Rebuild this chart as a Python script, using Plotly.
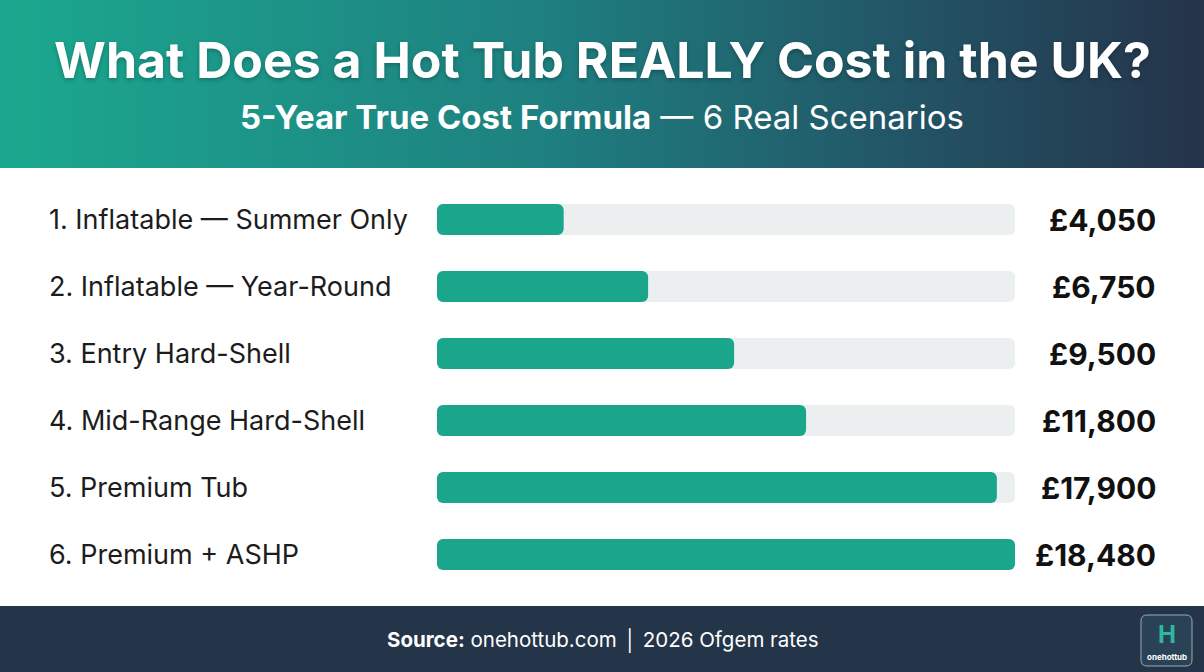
import plotly.graph_objects as go

# ---------------- data ----------------
categories = [
    "1. Inflatable — Summer Only",
    "2. Inflatable — Year-Round",
    "3. Entry Hard-Shell",
    "4. Mid-Range Hard-Shell",
    "5. Premium Tub",
    "6. Premium + ASHP",
]
costs = [4050, 6750, 9500, 11800, 17900, 18480]
value_labels = ["£4,050", "£6,750", "£9,500", "£11,800", "£17,900", "£18,480"]

title_text = "What Does a Hot Tub REALLY Cost in the UK?"
subtitle_bold = "5-Year True Cost Formula"
subtitle_rest = " — 6 Real Scenarios"
source_bold = "Source:"
source_rest = " onehottub.com │ 2026 Ofgem rates"

# ---------------- layout constants ----------------
W, H = 1204, 672
TEAL = "#1AA68B"
TRACK = "#ECEFF0"
NAVY = "#243449"
FONT = "Inter"
RADIUS = 6
ROW_PX = 67
BAR_PX = 31
BAR_W = BAR_PX / ROW_PX

max_cost = max(costs)
track_vals = [max_cost] * len(categories)

fig = go.Figure()

# track bars
fig.add_trace(go.Bar(
    y=categories, x=track_vals, base=[0] * len(categories), orientation="h",
    marker=dict(color=TRACK, cornerradius=RADIUS, line=dict(width=0)),
    width=BAR_W, hoverinfo="skip", showlegend=False, xaxis="x", yaxis="y",
))
# value bars
fig.add_trace(go.Bar(
    y=categories, x=costs, base=[0] * len(categories), orientation="h",
    marker=dict(color=TEAL, cornerradius=RADIUS, line=dict(width=0)),
    width=BAR_W, showlegend=False, xaxis="x", yaxis="y",
    hovertemplate="%{y}: £%{x:,}<extra></extra>",
))

# header gradient band
fig.add_trace(go.Scatter(
    x=[0, 1, 1, 0, 0], y=[0, 0, 1, 1, 0], mode="lines", fill="toself",
    line=dict(width=0),
    fillgradient=dict(type="horizontal",
                      colorscale=[[0, "#1BA88F"], [0.45, "#1E8080"], [0.75, "#225566"], [1, "#25334A"]]),
    hoverinfo="skip", showlegend=False, xaxis="x2", yaxis="y2",
))

header_h = 168
footer_top = 606

row_top = 186
row_bot = row_top + ROW_PX * len(categories)

fig.update_layout(
    width=W, height=H,
    margin=dict(l=0, r=0, t=0, b=0),
    paper_bgcolor="#FFFFFF",
    plot_bgcolor="rgba(0,0,0,0)",
    barmode="overlay",
    xaxis=dict(domain=[437 / W, 1015 / W], range=[0, max_cost], visible=False, fixedrange=True),
    yaxis=dict(domain=[1 - row_bot / H, 1 - row_top / H], autorange="reversed",
               visible=False, fixedrange=True),
    xaxis2=dict(domain=[0, 1], range=[0, 1], visible=False, fixedrange=True),
    yaxis2=dict(domain=[1 - header_h / H, 1], range=[0, 1], visible=False, fixedrange=True),
)


def rounded_rect_path(x0, y0, x1, y1, r):
    # pixel coords (top-left origin) -> paper coords path
    def px(x):
        return x / W

    def py(y):
        return 1 - y / H
    return (f"M {px(x0 + r)} {py(y0)} L {px(x1 - r)} {py(y0)} "
            f"Q {px(x1)} {py(y0)} {px(x1)} {py(y0 + r)} L {px(x1)} {py(y1 - r)} "
            f"Q {px(x1)} {py(y1)} {px(x1 - r)} {py(y1)} L {px(x0 + r)} {py(y1)} "
            f"Q {px(x0)} {py(y1)} {px(x0)} {py(y1 - r)} L {px(x0)} {py(y0 + r)} "
            f"Q {px(x0)} {py(y0)} {px(x0 + r)} {py(y0)} Z")


shapes = [
    # footer band
    dict(type="rect", xref="paper", yref="paper", x0=0, x1=1, y0=0, y1=1 - footer_top / H,
         fillcolor=NAVY, line=dict(width=0), layer="below"),
    # logo box
    dict(type="path", xref="paper", yref="paper",
         path=rounded_rect_path(1141, 615, 1192, 666, 6),
         fillcolor="#2A4255", line=dict(color="#9AAAB4", width=1), layer="above"),
]
fig.update_layout(shapes=shapes)

ann = []
# title
ann.append(dict(text=f"<b>{title_text}</b>", xref="paper", yref="paper",
                x=0.5, y=1 - 60 / H, xanchor="center", yanchor="middle", showarrow=False,
                font=dict(family=FONT, size=50, color="white",
                          shadow="0px 2px 4px rgba(0,0,0,0.25)")))
ann.append(dict(text=f"<b>{subtitle_bold}</b>{subtitle_rest}", xref="paper", yref="paper",
                x=0.5, y=1 - 117 / H, xanchor="center", yanchor="middle", showarrow=False,
                font=dict(family=FONT, size=33, color="white")))
# row labels and values
for cat, lab in zip(categories, value_labels):
    ann.append(dict(text=cat, xref="paper", yref="y", x=47 / W, y=cat,
                    xanchor="left", yanchor="middle", showarrow=False,
                    font=dict(family=FONT, size=27, color="#1C1C1C")))
    ann.append(dict(text=f"<b>{lab}</b>", xref="paper", yref="y", x=1158 / W, y=cat,
                    xanchor="right", yanchor="middle", showarrow=False,
                    font=dict(family=FONT, size=30, color="#111111")))
# footer
ann.append(dict(text=f"<b>{source_bold}</b>{source_rest}", xref="paper", yref="paper",
                x=603 / W, y=1 - 640 / H, xanchor="center", yanchor="middle", showarrow=False,
                font=dict(family=FONT, size=20.5, color="white")))
# logo
ann.append(dict(text="<b>H</b>", xref="paper", yref="paper",
                x=1166.5 / W, y=1 - 634 / H, xanchor="center", yanchor="middle", showarrow=False,
                font=dict(family=FONT, size=24, color="#2FB8A0")))
ann.append(dict(text="<b>onehottub</b>", xref="paper", yref="paper",
                x=1166.5 / W, y=1 - 657 / H, xanchor="center", yanchor="middle", showarrow=False,
                font=dict(family=FONT, size=8, color="white")))
fig.update_layout(annotations=ann)

fig.write_html("out.html")
